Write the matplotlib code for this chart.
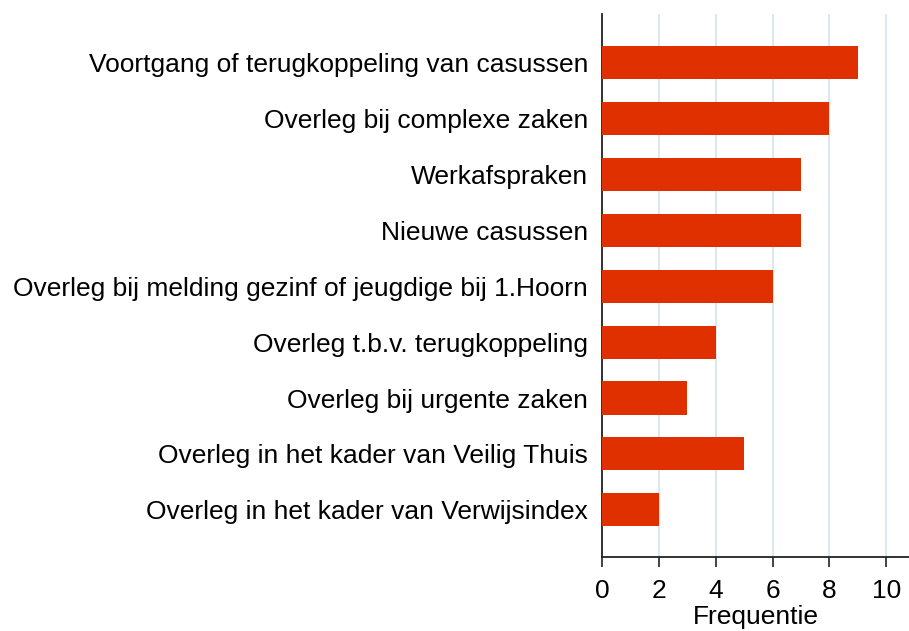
import matplotlib.pyplot as plt

categories = [
    "Voortgang of terugkoppeling van casussen",
    "Overleg bij complexe zaken",
    "Werkafspraken",
    "Nieuwe casussen",
    "Overleg bij melding gezinf of jeugdige bij 1.Hoorn",
    "Overleg t.b.v. terugkoppeling",
    "Overleg bij urgente zaken",
    "Overleg in het kader van Veilig Thuis",
    "Overleg in het kader van Verwijsindex",
]
values = [9, 8, 7, 7, 6, 4, 3, 5, 2]
xticks = [0, 2, 4, 6, 8, 10]

plt.rcParams['font.family'] = ['Liberation Sans', 'DejaVu Sans']

fig = plt.figure(figsize=(9.09, 6.31), dpi=100)
ax = fig.add_axes([0.6623, 0.1173, 0.3377, 0.8605])

ypos = list(range(len(categories)))
ax.barh(ypos, values, height=0.59, color='#e03000', zorder=3)
ax.set_yticks(ypos)
ax.set_yticklabels(categories, fontsize=19)
ax.set_ylim(len(categories) - 1 + 0.84, -0.86)
ax.set_xlim(0, 10.8)
ax.set_xticks(xticks)
ax.tick_params(axis='x', labelsize=19, length=7, width=1.2, color='#222222', pad=9)
ax.tick_params(axis='y', length=0, pad=10)
ax.grid(axis='x', color='#dde8ee', linewidth=1.5, zorder=0)
for s in ['top', 'right']:
    ax.spines[s].set_visible(False)
for s in ['left', 'bottom']:
    ax.spines[s].set_color('#222222')
    ax.spines[s].set_linewidth(1.3)
ax.set_xlabel("Frequentie", fontsize=19, labelpad=1)

fig.savefig("out.png", dpi=100)
